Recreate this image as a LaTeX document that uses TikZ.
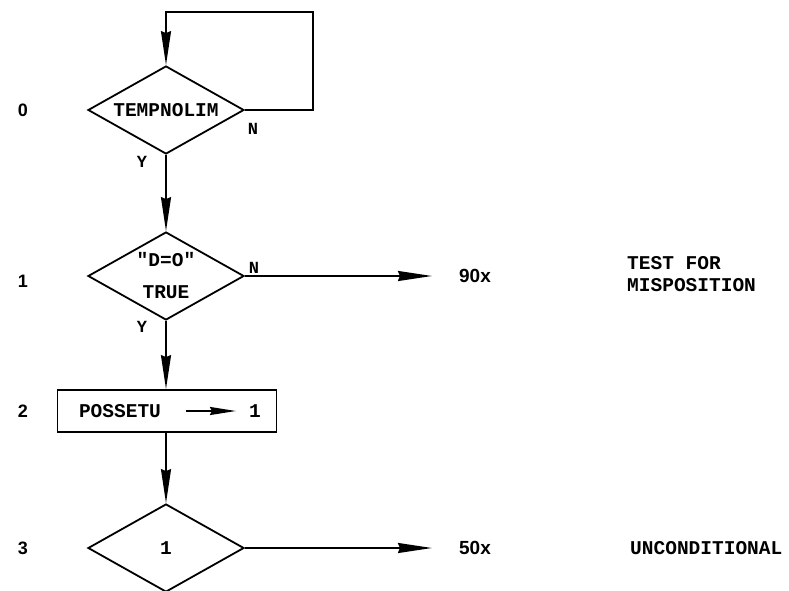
\documentclass[tikz,border=0pt]{standalone}
\usepackage{fontspec}
\setmainfont{Liberation Mono}
\newfontfamily\flowfont{Liberation Mono}
\newfontfamily\numfont{Liberation Sans}
\usetikzlibrary{shapes.geometric,arrows.meta,positioning}
\tikzset{
  test/.style={
    draw=black,
    line width=1.8pt,
    shape=diamond,
    aspect=1.77,
    minimum width=156pt,
    minimum height=88pt,
    inner sep=0pt,
    font=\flowfont\fontsize{19.5}{32}\selectfont\bfseries,
    align=center
  },
  proc/.style={draw=black, line width=1.8pt, minimum width=219pt, minimum height=42pt, inner sep=0pt},
  boxtxt/.style={font=\flowfont\fontsize{19.5}{22}\selectfont\bfseries, inner sep=0pt},
  yn/.style={font=\flowfont\fontsize{17}{20}\selectfont\bfseries, inner sep=0pt},
  rownum/.style={font=\numfont\fontsize{18}{20}\selectfont\bfseries, inner sep=0pt},
  exitlbl/.style={font=\numfont\fontsize{19}{20}\selectfont\bfseries, inner sep=0pt},
  note/.style={font=\flowfont\fontsize{19.5}{22}\selectfont\bfseries, inner sep=0pt, anchor=west, align=left},
  flow/.style={draw=black, line width=1.8pt, -{Stealth[length=34pt,width=10pt,inset=2pt]}},
  setarrow/.style={draw=black, line width=1.8pt, -{Stealth[length=26pt,width=8pt,inset=2pt]}},
}

\begin{document}
\begin{tikzpicture}[x=1pt,y=-1pt]
  \useasboundingbox (0,0) rectangle (789,591);
  % step numbers on the left
  \foreach \n/\y in {0/110,1/281,2/411,3/548} {
    \node[rownum] (row\n) at (23,\y) {\n};
  }
  % flow boxes
  \node[test] (tnl) at (166,110) {TEMPNOLIM};
  \node[test] (dzero) at (166,276) {"D=O"\\TRUE};
  \node[proc] (pset) at (167,411) {};
  \node[boxtxt] (psetname) at (120,411) {POSSETU};
  \node[boxtxt] (psetval) at (255,411) {1};
  \node[test] (uncond) at (166,548) {1};
  % branch labels
  \node[yn] (tnlN) at (253,129) {N};
  \node[yn] (tnlY) at (142,162) {Y};
  \node[yn] (dzeroN) at (254,268) {N};
  \node[yn] (dzeroY) at (142,327) {Y};
  % exits and remarks
  \node[exitlbl] (x90) at (475,276) {90x};
  \node[exitlbl] (x50) at (475,548) {50x};
  \node[note] (n90) at (627,274) {TEST FOR\\MISPOSITION};
  \node[note] (n50) at (630,548) {UNCONDITIONAL};
  % connectors
  \coordinate (looptop) at (313,12);
  \draw[flow] (tnl.east) -| (looptop) -| (tnl.north);
  \draw[flow] (tnl.south) -- (dzero.north);
  \draw[flow] (dzero.south) -- (dzero.south |- pset.north);
  \draw[flow] (dzero.south |- pset.south) -- (uncond.north);
  \draw[flow, shorten >=27pt] (dzero.east) -- (x90.west);
  \draw[flow, shorten >=27pt] (uncond.east) -- (x50.west);
  \draw[setarrow, shorten <=25pt, shorten >=13pt] (psetname.east) -- (psetval.west);
\end{tikzpicture}
\end{document}
